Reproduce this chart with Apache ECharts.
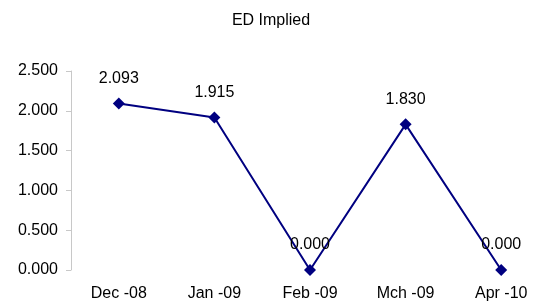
<!DOCTYPE html>
<html>
<head>
<meta charset="utf-8">
<script src="https://cdn.jsdelivr.net/npm/echarts@6/dist/echarts.min.js"></script>
<style>
  html, body { margin: 0; padding: 0; background: #fff; }
  #chart { width: 542px; height: 307px; }
</style>
</head>
<body>
<div id="chart"></div>
<script>
const months = ['Dec -08', 'Jan -09', 'Feb -09', 'Mch -09', 'Apr -10']
const edImplied = [2.093, 1.915, 0.0, 1.83, 0.0]
const yTicks = [0, 0.5, 1, 1.5, 2, 2.5]

const font = '"Liberation Sans", Arial, sans-serif'

const chart = echarts.init(document.getElementById('chart'))
chart.setOption({
  animation: false,
  title: {
    text: 'ED Implied',
    left: 'center',
    top: 8,
    textStyle: { fontFamily: font, fontSize: 16, fontWeight: 'normal', color: '#000' }
  },
  grid: { left: 71, right: -7, top: 71, bottom: 37, outerBoundsMode: 'none' },
  xAxis: {
    type: 'category',
    data: months,
    axisLine: { show: false },
    axisTick: { show: false },
    axisLabel: { fontFamily: font, fontSize: 16, color: '#000', margin: 16 }
  },
  yAxis: {
    type: 'value',
    min: yTicks[0],
    max: yTicks[yTicks.length - 1],
    interval: 0.5,
    splitLine: { show: false },
    axisLine: { show: true, lineStyle: { color: '#c8c8c8' } },
    axisTick: { show: true, length: 5, lineStyle: { color: '#c8c8c8' } },
    axisLabel: {
      fontFamily: font, fontSize: 16, color: '#000', margin: 13,
      formatter: v => v.toFixed(3)
    }
  },
  series: [{
    name: 'ED Implied',
    type: 'line',
    data: edImplied,
    symbol: 'diamond',
    symbolSize: 12,
    lineStyle: { color: '#000080', width: 2 },
    itemStyle: { color: '#000080' },
    label: {
      show: true,
      position: 'top',
      distance: 11,
      fontFamily: font,
      fontSize: 16,
      color: '#000',
      formatter: p => p.value.toFixed(3)
    }
  }]
})
</script>
</body>
</html>
